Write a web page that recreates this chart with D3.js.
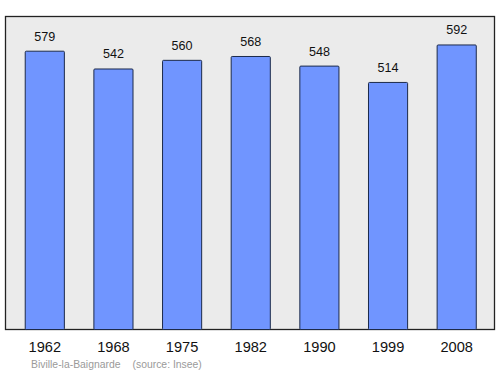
<!DOCTYPE html>
<html>
<head>
<meta charset="utf-8">
<script src="https://cdn.jsdelivr.net/npm/d3@7"></script>
<style>
  body { margin: 0; background: #fff; }
  text { font-family: "Liberation Sans", Arial, sans-serif; }
</style>
</head>
<body>
<div id="chart"></div>
<script>
const years = ['1962', '1968', '1975', '1982', '1990', '1999', '2008'];
const population = [579, 542, 560, 568, 548, 514, 592];
const town = 'Biville-la-Baignarde';
const source = '(source: Insee)';

const width = 500, height = 374;
const frame = {left: 5.5, top: 16.5, right: 494.5, bottom: 329.5};

const svg = d3.select('#chart')
  .append('svg')
    .attr('width', width)
    .attr('height', height);

svg.append('rect')
  .attr('x', frame.left)
  .attr('y', frame.top)
  .attr('width', frame.right - frame.left)
  .attr('height', frame.bottom - frame.top)
  .attr('fill', '#ebebeb')
  .attr('stroke', '#222')
  .attr('stroke-width', 1.3);

const x = d3.scaleBand()
  .domain(years)
  .range([11.5, 490])
  .paddingInner(0.43)
  .paddingOuter(0.2);

const y = d3.scaleLinear()
  .domain([0, d3.max(population) * 1.1])
  .range([frame.bottom, frame.top]);

const data = years.map((yr, i) => ({year: yr, value: population[i]}));

svg.append('g')
  .selectAll('rect')
  .data(data)
  .enter()
  .append('rect')
    .attr('x', d => x(d.year))
    .attr('y', d => y(d.value))
    .attr('width', x.bandwidth())
    .attr('height', d => frame.bottom - y(d.value))
    .attr('rx', 1)
    .attr('fill', '#7095ff')
    .attr('stroke', '#1c2a4a')
    .attr('stroke-width', 1);

svg.append('g')
  .selectAll('text')
  .data(data)
  .enter()
  .append('text')
    .attr('x', d => x(d.year) + x.bandwidth() / 2)
    .attr('y', d => y(d.value) - 10.5)
    .attr('text-anchor', 'middle')
    .attr('font-size', 12.6)
    .attr('fill', '#111')
    .text(d => d.value);

// year axis, no line or ticks
const axis = svg.append('g')
  .attr('transform', 'translate(0,' + frame.bottom + ')')
  .call(d3.axisBottom(x).tickSize(0).tickPadding(12.5));
axis.select('.domain').remove();
axis.selectAll('text')
  .attr('font-size', 14.6)
  .attr('fill', '#111')
  .style('font-family', '"Liberation Sans", Arial, sans-serif');

svg.append('text')
  .attr('x', 31)
  .attr('y', 368)
  .attr('font-size', 10.4)
  .attr('fill', '#9a9a9a')
  .text(town);

svg.append('text')
  .attr('x', 132.5)
  .attr('y', 368)
  .attr('font-size', 10.4)
  .attr('fill', '#9a9a9a')
  .text(source);
</script>
</body>
</html>
